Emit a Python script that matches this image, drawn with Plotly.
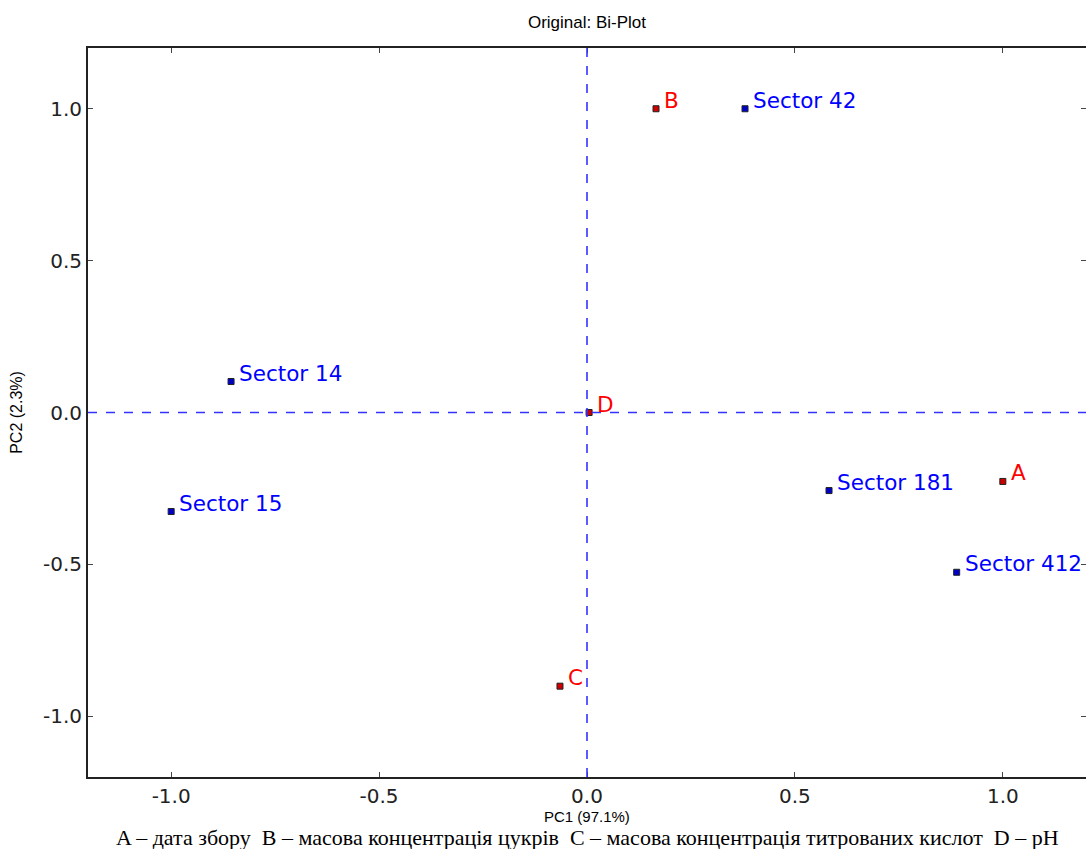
import plotly.graph_objects as go

sector_names = ["Sector 42", "Sector 14", "Sector 15", "Sector 181", "Sector 412"]
sector_pc1 = [0.38, -0.856, -1.0, 0.582, 0.889]
sector_pc2 = [1.0, 0.102, -0.326, -0.257, -0.526]

var_names = ["A", "B", "C", "D"]
var_pc1 = [1.0, 0.166, -0.065, 0.005]
var_pc2 = [-0.227, 1.0, -0.901, 0.0]

tick_vals = [-1.0, -0.5, 0.0, 0.5, 1.0]
tick_text = ["-1.0", "-0.5", "0.0", "0.5", "1.0"]

caption = "A – дата збору  B – масова концентрація цукрів  C – масова концентрація титрованих кислот  D – pH"

fig = go.Figure()

fig.add_shape(type="line", xref="x", yref="paper", x0=0, x1=0, y0=0, y1=1,
              line=dict(color="#3333ff", width=1.6, dash="dash"))
fig.add_shape(type="line", xref="paper", yref="y", x0=0, x1=1, y0=0, y1=0,
              line=dict(color="#3333ff", width=1.6, dash="dash"))

fig.add_trace(go.Scatter(x=sector_pc1, y=sector_pc2, mode="markers",
                         marker=dict(symbol="square", size=6, color="#0000cc",
                                     line=dict(color="#222222", width=1)),
                         showlegend=False, hoverinfo="text", text=sector_names))
fig.add_trace(go.Scatter(x=var_pc1, y=var_pc2, mode="markers",
                         marker=dict(symbol="square", size=6, color="#cc0000",
                                     line=dict(color="#222222", width=1)),
                         showlegend=False, hoverinfo="text", text=var_names))

for n, x, y in zip(sector_names, sector_pc1, sector_pc2):
    fig.add_annotation(x=x, y=y, text=n, showarrow=False, xanchor="left", yanchor="bottom",
                       xshift=6, yshift=-6, font=dict(family="DejaVu Sans", size=21.5, color="#0000ff"))
for n, x, y in zip(var_names, var_pc1, var_pc2):
    fig.add_annotation(x=x, y=y, text=n, showarrow=False, xanchor="left", yanchor="bottom",
                       xshift=6, yshift=-6, font=dict(family="DejaVu Sans", size=21.5, color="#ff0000"))

narrow = "Liberation Sans Narrow, Arial Narrow, Liberation Sans"

fig.add_annotation(x=0.5, y=0, xref="paper", yref="paper", yanchor="top", yshift=-30,
                   text="PC1 (97.1%)", showarrow=False, borderpad=0,
                   font=dict(family=narrow, size=15, color="#000000"))
fig.add_annotation(x=0.5, y=0, xref="paper", yref="paper", yanchor="top", yshift=-47,
                   text=caption, showarrow=False, borderpad=0,
                   font=dict(family="Liberation Serif", size=22, color="#000000"))

axis_common = dict(showgrid=False, zeroline=False, showline=True, linecolor="#222222",
                   linewidth=2, mirror="ticks", ticks="inside", ticklen=5, tickcolor="#444444",
                   tickfont=dict(family="DejaVu Sans", size=20, color="#222222"))

fig.update_layout(
    width=1088, height=849,
    margin=dict(l=88, r=0, t=48, b=72),
    paper_bgcolor="white", plot_bgcolor="white",
    title=dict(text="Original: Bi-Plot", x=0.5, xref="paper", y=0.974, yanchor="middle",
               font=dict(family=narrow, size=17, color="#000000")),
    xaxis=dict(range=[-1.2, 1.2], tickvals=tick_vals, ticktext=tick_text, **axis_common),
    yaxis=dict(range=[-1.2, 1.2], tickvals=tick_vals, ticktext=tick_text,
               title=dict(text="PC2 (2.3%)", standoff=16,
                          font=dict(family=narrow, size=16, color="#000000")),
               **axis_common),
)

fig.write_html("out.html", config={"displayModeBar": False},
               post_script="document.body.style.margin='0';document.body.style.padding='0';document.body.style.overflow='hidden';")
